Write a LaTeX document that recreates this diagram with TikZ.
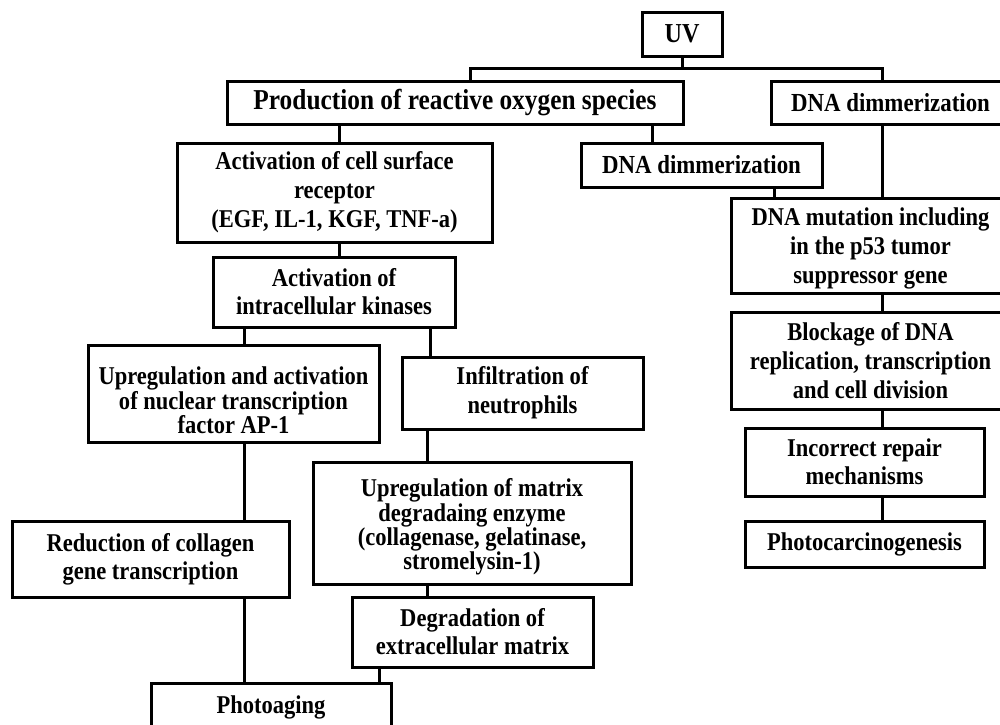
\documentclass[tikz,border=0pt]{standalone}
\usepackage{fontspec}
\setmainfont{Liberation Serif}[FakeStretch=0.88]
\newcommand{\fs}[2]{\bfseries\fontsize{#1}{#2}\selectfont}
\begin{document}
\begin{tikzpicture}[x=0.5pt,y=-0.5pt,
  box/.style={draw, line width=1.5pt, inner sep=0pt, align=center, fill=white},
  txt/.style={inner sep=0pt, align=center},
  link/.style={line width=1.5pt},
]
\useasboundingbox[fill=white] (0,0) rectangle (1000,724);
% boxes
\node[box, minimum width=40pt, minimum height=22pt, font=\fs{13.7}{15}] (uv) at (682,34) {UV};
\node[box, minimum width=228pt, minimum height=21.5pt, font=\fs{14.4}{16}] (ros) at (455,102.5) {Production of reactive oxygen species};
\node[box, minimum width=119.5pt, minimum height=21.5pt, font=\fs{13}{15}] (dnaR) at (890.5,102.5) {DNA dimmerization};
\node[box, minimum width=157.5pt, minimum height=49.5pt, font=\fs{12.8}{14.5}] (act) at (334.5,192.5) {Activation of cell surface\\receptor\\(EGF, IL-1, KGF, TNF-a)};
\node[box, minimum width=120.5pt, minimum height=22pt, font=\fs{13}{15}] (dnaM) at (701.5,165) {DNA dimmerization};
\node[box, minimum width=121pt, minimum height=35pt, font=\fs{12.8}{14}] (kin) at (334,292) {Activation of\\intracellular kinases};
\node[box, minimum width=145.5pt, minimum height=48.5pt] (ap1) at (233.5,393.5) {};
\node[txt, font=\fs{12.8}{12.2}] (ap1t) at ([yshift=-3.5pt]ap1.center) {Upregulation and activation\\of nuclear transcription\\factor AP-1};
\node[box, minimum width=120.5pt, minimum height=36pt, font=\fs{12.8}{14.5}] (inf) at (522.5,393) {Infiltration of\\neutrophils};
\node[box, minimum width=159pt, minimum height=61pt] (mmp) at (472,523) {};
\node[txt, font=\fs{12.8}{12.2}] (mmpt) at ([yshift=-2pt]mmp.center) {Upregulation of matrix\\degradaing enzyme\\(collagenase, gelatinase,\\stromelysin-1)};
\node[box, minimum width=120.5pt, minimum height=35pt, font=\fs{12.8}{14}] (deg) at (472.5,632) {Degradation of\\extracellular matrix};
\node[box, minimum width=138.5pt, minimum height=38pt, font=\fs{12.8}{14}] (red) at (150.5,559) {Reduction of collagen\\gene transcription};
\node[box, minimum width=120pt, minimum height=24pt, font=\fs{12.8}{14}] (photo) at (271,707) {Photoaging};
\node[box, minimum width=139.5pt, minimum height=47.5pt] (mut) at (870.5,245.5) {};
\node[txt, font=\fs{12.8}{14.7}] (mutt) at ([yshift=-1.5pt]mut.center) {DNA mutation including\\in the p53 tumor\\suppressor gene};
\node[box, minimum width=139.5pt, minimum height=48.5pt, font=\fs{12.8}{14.5}] (blk) at (870.5,360.5) {Blockage of DNA\\replication, transcription\\and cell division};
\node[box, minimum width=119.5pt, minimum height=34pt, font=\fs{12.8}{14}] (inc) at (864.5,462) {Incorrect repair\\mechanisms};
\node[box, minimum width=119.5pt, minimum height=23pt, font=\fs{12.8}{14}] (pc) at (864.5,544) {Photocarcinogenesis};
% helper coordinates
\coordinate (bus) at (0,68);
\coordinate (x470) at (470,0);
\coordinate (x882) at (882,0);
\coordinate (x339) at (339,0);
\coordinate (x652) at (652,0);
\coordinate (x774) at (774,0);
\coordinate (x244) at (244,0);
\coordinate (x430) at (430,0);
\coordinate (x427) at (427,0);
\coordinate (x379) at (379,0);
% connectors
\draw[link] (uv.south) -- (uv.south |- bus);
\draw[link] (ros.north -| x470) -- (bus -| x470) -- (bus -| x882) -- (dnaR.north -| x882);
\draw[link] (ros.south -| x339) -- (act.north -| x339);
\draw[link] (ros.south -| x652) -- (dnaM.north -| x652);
\draw[link] (dnaR.south -| x882) -- (mut.north -| x882);
\draw[link] (dnaM.south -| x774) -- (mut.north -| x774);
\draw[link] (act.south -| x339) -- (kin.north -| x339);
\draw[link] (kin.south -| x244) -- (ap1.north -| x244);
\draw[link] (kin.south -| x430) -- (inf.north -| x430);
\draw[link] (ap1.south -| x244) -- (red.north -| x244);
\draw[link] (inf.south -| x427) -- (mmp.north -| x427);
\draw[link] (mmp.south -| x427) -- (deg.north -| x427);
\draw[link] (deg.south -| x379) -- (photo.north -| x379);
\draw[link] (red.south -| x244) -- (photo.north -| x244);
\draw[link] (mut.south -| x882) -- (blk.north -| x882);
\draw[link] (blk.south -| x882) -- (inc.north -| x882);
\draw[link] (inc.south -| x882) -- (pc.north -| x882);
\end{tikzpicture}
\end{document}
